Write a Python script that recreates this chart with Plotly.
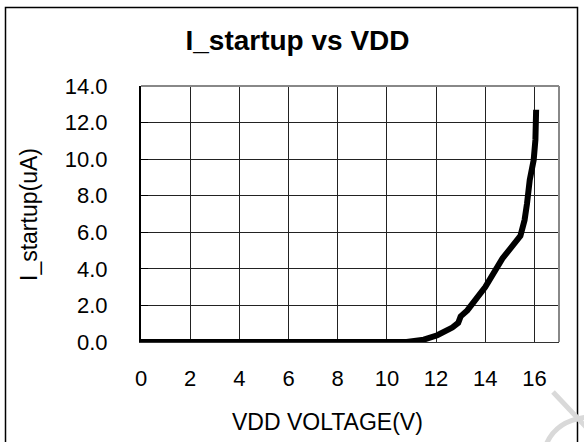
import plotly.graph_objects as go

# Data
vdd = [0, 2, 4, 6, 8, 10, 10.8, 11.5, 12.05, 12.66, 12.9, 13.0, 13.27, 14.0, 14.7,
       15.43, 15.6, 15.7, 15.81, 15.97, 16.04, 16.07]
i_startup = [0, 0, 0, 0, 0, 0, 0, 0.13, 0.37, 0.79, 1.04, 1.4, 1.73, 3.0, 4.57,
             5.8, 6.67, 7.58, 8.86, 9.95, 11.05, 12.7]
x_ticks = [0, 2, 4, 6, 8, 10, 12, 14, 16]
y_ticks = [0, 2, 4, 6, 8, 10, 12, 14]

W, H = 584, 442
L, R, T, B = 141, 25, 86, 100
PW, PH = W - L - R, H - T - B


def px(xp):
    return (xp - L) / PW


def py(yp):
    return (H - B - yp) / PH


FONT = "Liberation Sans, Arial, sans-serif"

fig = go.Figure()
fig.add_trace(go.Scatter(x=vdd, y=i_startup, mode="lines",
                         line=dict(color="black", width=6),
                         showlegend=False, hoverinfo="x+y"))

fig.update_layout(
    width=W, height=H,
    margin=dict(l=L, r=R, t=T, b=B),
    paper_bgcolor="white", plot_bgcolor="white",
    font=dict(family=FONT, color="black", size=22),
    title=dict(text="<b>I_startup vs VDD</b>", x=297.5 / W, xanchor="center",
               y=1 - 40 / H, yanchor="middle",
               font=dict(family=FONT, size=28, color="black")),
    showlegend=False,
)

fig.update_xaxes(range=[0, 17], tickvals=x_ticks, ticktext=[str(v) for v in x_ticks],
                 showgrid=True, gridcolor="#222", gridwidth=1,
                 showline=True, linecolor="#333", linewidth=1,
                 ticks="", zeroline=False, ticklabelstandoff=17,
                 tickfont=dict(size=22, family=FONT))
fig.update_yaxes(range=[0, 14], tickvals=y_ticks, tickformat=".1f",
                 showgrid=True, gridcolor="#222", gridwidth=1,
                 showline=True, linecolor="black", linewidth=2,
                 ticks="inside", ticklen=7, tickcolor="black", tickwidth=1,
                 zeroline=False, ticklabelstandoff=27,
                 tickfont=dict(size=22, family=FONT))

# Y axis title and X axis title as annotations
fig.add_annotation(text="I_startup(uA)", xref="paper", yref="paper",
                   x=px(29), y=py(215), textangle=-90, showarrow=False,
                   xanchor="center", yanchor="middle",
                   font=dict(family=FONT, size=23, color="black"))
fig.add_annotation(text="VDD VOLTAGE(V)", xref="paper", yref="paper",
                   x=px(327), y=py(422), showarrow=False,
                   xanchor="center", yanchor="middle",
                   font=dict(family=FONT, size=23, color="black"))

# Grey top/right plot border
fig.add_shape(type="line", xref="paper", yref="paper", x0=0, x1=1, y0=1, y1=1,
              line=dict(color="#888", width=2), layer="above")
fig.add_shape(type="line", xref="paper", yref="paper", x0=1, x1=1, y0=0, y1=1,
              line=dict(color="#888", width=2), layer="above")

# Outer frame
fig.add_shape(type="rect", xref="paper", yref="paper",
              x0=px(5.5), x1=px(577.5), y0=py(450), y1=py(7.5),
              line=dict(color="black", width=1.5), layer="above")

# Light grey watermark fragment
fig.add_shape(type="line", xref="paper", yref="paper",
              x0=px(553), y0=py(392), x1=px(586), y1=py(427),
              line=dict(color="#d9d9d9", width=5), layer="above")
fig.add_shape(type="path", xref="paper", yref="paper",
              path=f"M {px(546)},{py(445)} Q {px(556)},{py(420)} {px(588)},{py(417)}",
              line=dict(color="#d9d9d9", width=5), layer="above")

fig.write_html(
    "out.html",
    config={"displayModeBar": False},
    post_script="document.body.style.margin='0';document.body.style.overflow='hidden';",
)
